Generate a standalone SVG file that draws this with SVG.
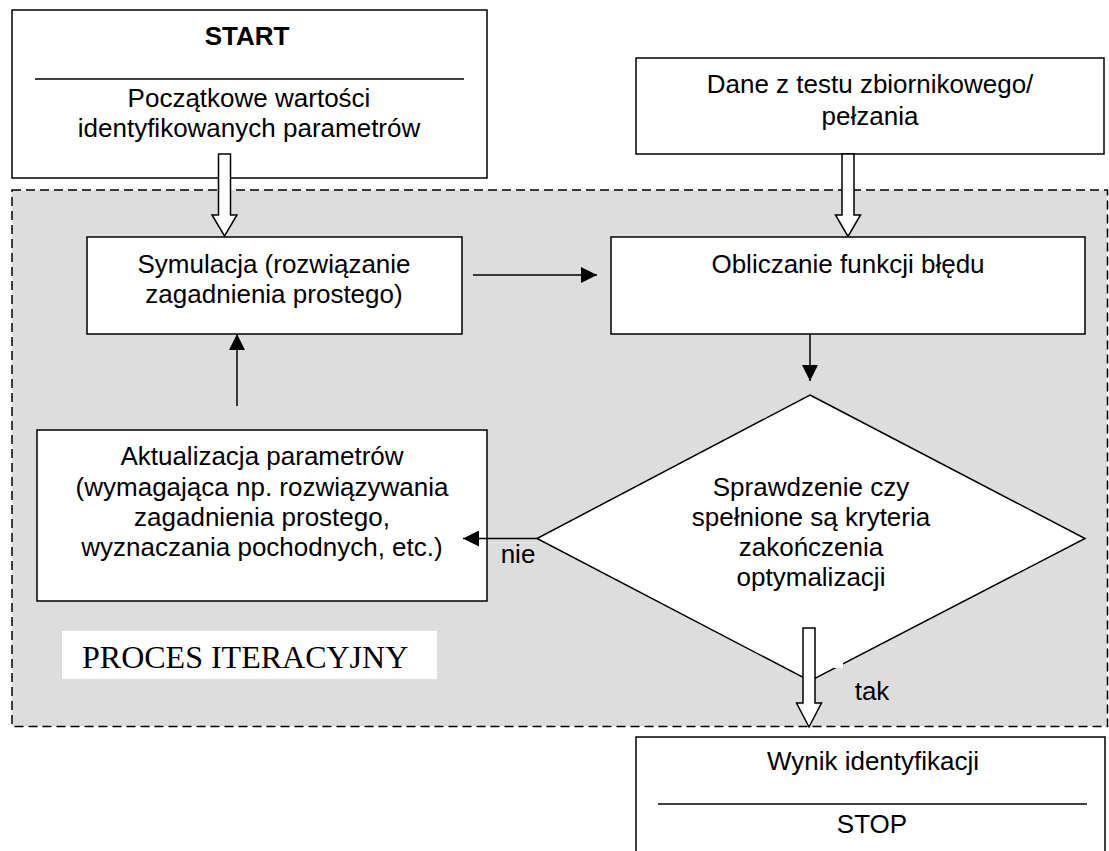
<svg xmlns="http://www.w3.org/2000/svg" width="1109" height="851" viewBox="0 0 1109 851">
<defs>
<style>
.box{fill:#fff;stroke:#000;stroke-width:1.5}
.t{font-family:"Liberation Sans",Arial,sans-serif;font-size:26px;fill:#000;text-anchor:middle}
.b{font-weight:bold}
.ln{stroke:#000;stroke-width:1.5;fill:none}
.hollow{fill:#fff;stroke:#000;stroke-width:1.5;stroke-linejoin:miter}
</style>
<marker id="ah" viewBox="0 0 16 16" refX="16" refY="8" markerWidth="16" markerHeight="16" markerUnits="userSpaceOnUse" orient="auto">
<path d="M0,0 L16,8 L0,16 z" fill="#000"/>
</marker>
</defs>
<rect width="1109" height="851" fill="#fff"/>

<g id="region">
<rect x="12" y="190" width="1095.5" height="536.5" fill="#dddddd" stroke="#000" stroke-width="1.5" stroke-dasharray="9,5"/>
<rect x="62" y="631" width="375" height="48" fill="#fff"/>
<text x="82" y="668" style="font-family:'Liberation Serif','Times New Roman',serif;font-size:32px;fill:#000">PROCES ITERACYJNY</text>
</g>

<g id="start">
<rect class="box" x="12" y="10" width="475" height="168"/>
<text class="t b" x="247" y="45">START</text>
<line x1="35" y1="79" x2="464" y2="79" stroke="#000" stroke-width="1.3"/>
<text class="t" x="249" y="107">Początkowe wartości</text>
<text class="t" x="249" y="137">identyfikowanych parametrów</text>
</g>

<g id="dane">
<rect class="box" x="636" y="58" width="468" height="96"/>
<text class="t" x="870" y="93">Dane z testu zbiornikowego/</text>
<text class="t" x="870" y="125">pełzania</text>
</g>

<g id="symulacja">
<rect class="box" x="87" y="237" width="375" height="97"/>
<text class="t" x="274" y="273">Symulacja (rozwiązanie</text>
<text class="t" x="274" y="303">zagadnienia prostego)</text>
</g>

<g id="obliczanie">
<rect class="box" x="611" y="237" width="474" height="97"/>
<text class="t" x="848" y="273">Obliczanie funkcji błędu</text>
</g>

<g id="aktualizacja">
<rect class="box" x="37" y="430" width="450" height="171"/>
<text class="t" x="262" y="465">Aktualizacja parametrów</text>
<text class="t" x="262" y="495.5">(wymagająca np. rozwiązywania</text>
<text class="t" x="262" y="526">zagadnienia prostego,</text>
<text class="t" x="262" y="556">wyznaczania pochodnych, etc.)</text>
</g>

<g id="decyzja">
<polygon class="box" points="810,395 1085,538.5 810,681 537,538.5"/>
<text class="t" x="811" y="496">Sprawdzenie czy</text>
<text class="t" x="811" y="526">spełnione są kryteria</text>
<text class="t" x="811" y="556">zakończenia</text>
<text class="t" x="811" y="586">optymalizacji</text>
<rect x="834" y="661" width="9" height="7" fill="#fff"/>
</g>

<g id="wynik">
<rect class="box" x="636" y="737" width="469" height="130"/>
<text class="t" x="873" y="770">Wynik identyfikacji</text>
<line x1="658" y1="804" x2="1087" y2="804" stroke="#000" stroke-width="1.3"/>
<text class="t" x="872" y="833">STOP</text>
</g>

<g id="connectors">
<polygon class="hollow" points="218.5,154 230.5,154 230.5,215 237,215 224.5,236 212,215 218.5,215"/>
<polygon class="hollow" points="842,154 854,154 854,215 860.5,215 848,236.5 835.5,215 842,215"/>
<polygon class="hollow" points="803,628 815,628 815,703 821.5,703 809,727 796.5,703 803,703"/>
<line class="ln" x1="473" y1="275" x2="597" y2="275" marker-end="url(#ah)"/>
<line class="ln" x1="237" y1="406" x2="237" y2="334" marker-end="url(#ah)"/>
<line class="ln" x1="810" y1="334" x2="810" y2="381" marker-end="url(#ah)"/>
<line class="ln" x1="537" y1="538.5" x2="463" y2="538.5" marker-end="url(#ah)"/>
<text class="t" x="518" y="563">nie</text>
<text class="t" x="872" y="700">tak</text>
</g>
</svg>
